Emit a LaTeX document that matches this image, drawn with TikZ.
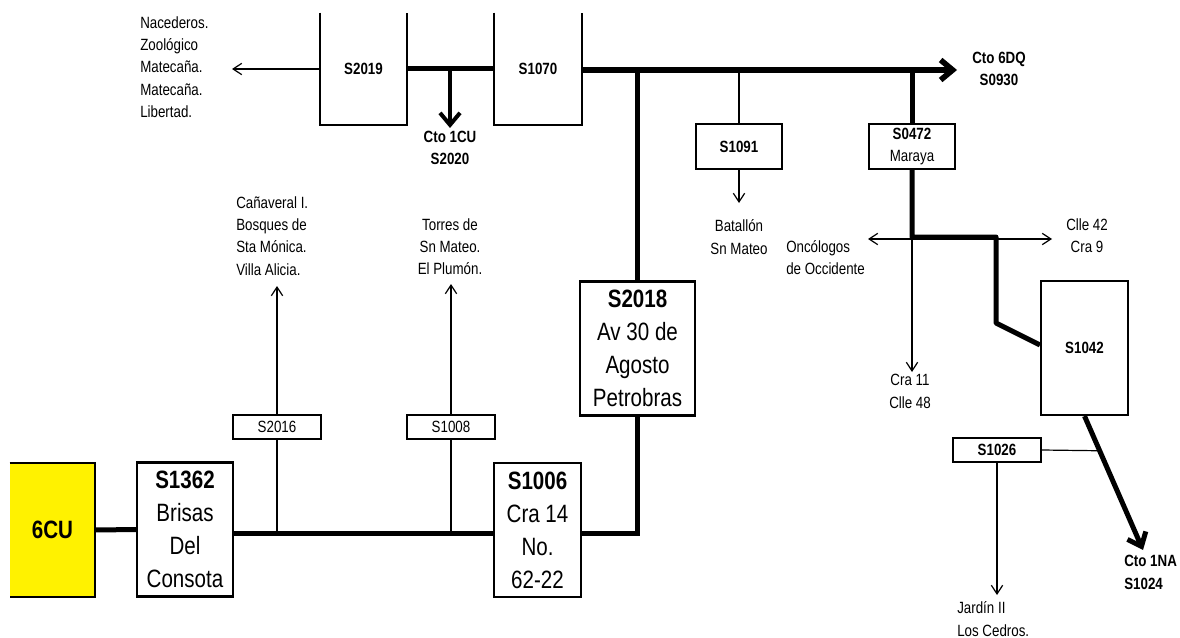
\documentclass[tikz,border=0pt]{standalone}
\usepackage{fontspec}
\setmainfont{Liberation Sans}[FakeStretch=0.82]
\usetikzlibrary{arrows.meta,calc}
\tikzset{
  sm/.style={font=\fontsize{12.2}{16.7}\selectfont, inner sep=0pt, align=center},
  smb/.style={font=\fontsize{12.2}{16.7}\selectfont\bfseries, inner sep=0pt, align=center},
  bg/.style={font=\fontsize{18.8}{24.8}\selectfont, inner sep=0pt, align=center},
  box/.style={draw, line width=1.6pt, inner sep=0pt},
  tallbox/.style={minimum height=100.5pt},
  smallbox/.style={minimum width=66pt, minimum height=18pt},
  midbox/.style={minimum width=64.5pt, minimum height=33.75pt},
  feeder/.style={line width=3.75pt},
  thinl/.style={line width=0.9pt},
  tarr/.style={thinl, -{Straight Barb[length=6.5pt,width=8.5pt]}},
  barr/.style={feeder, -{Straight Barb[length=9pt,width=15pt]}},
  tarr2/.style={thinl, {Straight Barb[length=6.5pt,width=8.5pt]}-{Straight Barb[length=6.5pt,width=8.5pt]}}
}
\begin{document}
\begin{tikzpicture}[x=0.75pt,y=-0.75pt]
\useasboundingbox[fill=white] (0,0) rectangle (1180,638);

% ---- boxes ----
\node[tallbox, minimum width=63.75pt, fill=yellow, inner sep=0pt, font=\fontsize{18.8}{24.8}\selectfont\bfseries] (n6cu) at (52.5,530) {6CU};
\draw[line width=1.6pt] (n6cu.north west) -- (n6cu.north east) -- (n6cu.south east) -- (n6cu.south west);

\node[box, bg, tallbox, minimum width=72pt] (s1362) at (185,529.5) {\textbf{S1362}\\Brisas\\Del\\Consota};
\node[box, sm, smallbox] (s2016) at (277,427) {S2016};
\node[box, sm, smallbox] (s1008) at (451,427) {S1008};
\node[box, bg, tallbox, minimum width=65.25pt] (s1006) at (537.5,530) {\textbf{S1006}\\Cra 14\\No.\\62-22};
\node[box, bg, tallbox, minimum width=86.25pt] (s2018) at (637.5,348.5) {\textbf{S2018}\\Av 30 de\\Agosto\\Petrobras};

\node[smb, minimum width=65.25pt, minimum height=84pt] (s2019) at (363.5,69) {S2019};
\draw[line width=1.6pt] (s2019.north west) -- (s2019.south west) -- (s2019.south east) -- (s2019.north east);
\node[smb, minimum width=66pt, minimum height=84pt] (s1070) at (538,69) {S1070};
\draw[line width=1.6pt] (s1070.north west) -- (s1070.south west) -- (s1070.south east) -- (s1070.north east);

\node[box, smb, midbox] (s1091) at (739,146.5) {S1091};
\node[box, sm, midbox] (s0472) at (912,146.5) {\textbf{S0472}\\Maraya};
\node[box, smb, tallbox, minimum width=65.25pt] (s1042) at (1084.5,348) {S1042};
\node[box, smb, smallbox] (s1026) at (997,450) {S1026};

% ---- coordinates ----
\coordinate (mainL) at (233,533);
\coordinate (topL) at (582,70);
\coordinate (t6dq) at (957,70);
\coordinate (j1cu) at (450,69);
\coordinate (t1cu) at (450,128);
\coordinate (tleft) at (232,69);
\coordinate (t2016) at (277,286);
\coordinate (t1008) at (451,284);
\coordinate (t1091) at (739,203);
\coordinate (jm) at (912,237);
\coordinate (jr) at (996,237);
\coordinate (jd) at (996,323);
\coordinate (tOnc) at (868,239);
\coordinate (tClle) at (1052,239);
\coordinate (jc11) at (912,239);
\coordinate (tc11) at (912,372);
\coordinate (t1na) at (1143,550);
\coordinate (t1026) at (997,595);

% ---- feeders ----
\draw[feeder] (n6cu.east) -- (s1362.west);
\draw[feeder] (s1362.east |- mainL) -- (s1006.west |- mainL);
\draw[feeder] (s1006.east |- mainL) -| (s2018.south);
\draw[feeder] (s2018.north) -- (s2018.north |- topL);
\draw[barr, line width=4.2pt] (s1070.east |- topL) -- (t6dq);
\draw[feeder] (s2019.east) -- (s1070.west);
\draw[barr, line width=3pt] (j1cu) -- (t1cu);
\draw[feeder] (s0472.north |- topL) -- (s0472.north);
\draw[feeder, line join=round] (s0472.south) -- (jm) -- (jr) -- (jd) -- ([yshift=2.25pt]s1042.west);
\draw[barr] (s1042.south) -- (t1na);
\coordinate (jdiag) at ($(s1042.south)!0.259!(t1na)$);

% ---- laterals ----
\draw[tarr] (s2019.west) -- (tleft);
\draw[thinl] (s1091.north |- topL) -- (s1091.north);
\draw[tarr] (s1091.south) -- (t1091);
\draw[thinl] (s2016.south) -- (s2016.south |- mainL);
\draw[tarr] (s2016.north) -- (t2016);
\draw[thinl] (s1008.south) -- (s1008.south |- mainL);
\draw[tarr] (s1008.north) -- (t1008);
\draw[tarr2] (tOnc) -- (tClle);
\draw[tarr] (jc11) -- (tc11);
\draw[thinl] (s1026.east) -- (jdiag);
\draw[tarr] (s1026.south) -- (t1026);

% ---- labels ----
\node[sm, align=left, anchor=west] (lNac) at (140,67) {Nacederos.\\Zoológico\\Matecaña.\\Matecaña.\\Libertad.};
\node[smb] (l1cu) at (450,148) {Cto 1CU\\S2020};
\node[smb] (l6dq) at (999,69) {Cto 6DQ\\S0930};
\node[sm] (lBat) at (739,237) {Batallón\\Sn Mateo};
\node[sm, align=left, anchor=west] (lOnc) at (786,257.5) {Oncólogos\\de Occidente};
\node[sm] (lClle) at (1087,236) {Clle 42\\Cra 9};
\node[sm] (lCra11) at (910,391.5) {Cra 11\\Clle 48};
\node[sm, align=left, anchor=west] (lCan) at (236,236) {Cañaveral I.\\Bosques de\\Sta Mónica.\\Villa Alicia.};
\node[sm] (lTor) at (450,246.5) {Torres de\\Sn Mateo.\\El Plumón.};
\node[smb, align=left, anchor=west] (l1na) at (1124,572.5) {Cto 1NA\\S1024};
\node[sm, align=left, anchor=west] (lJar) at (957,619) {Jardín II\\Los Cedros.};
\end{tikzpicture}
\end{document}
